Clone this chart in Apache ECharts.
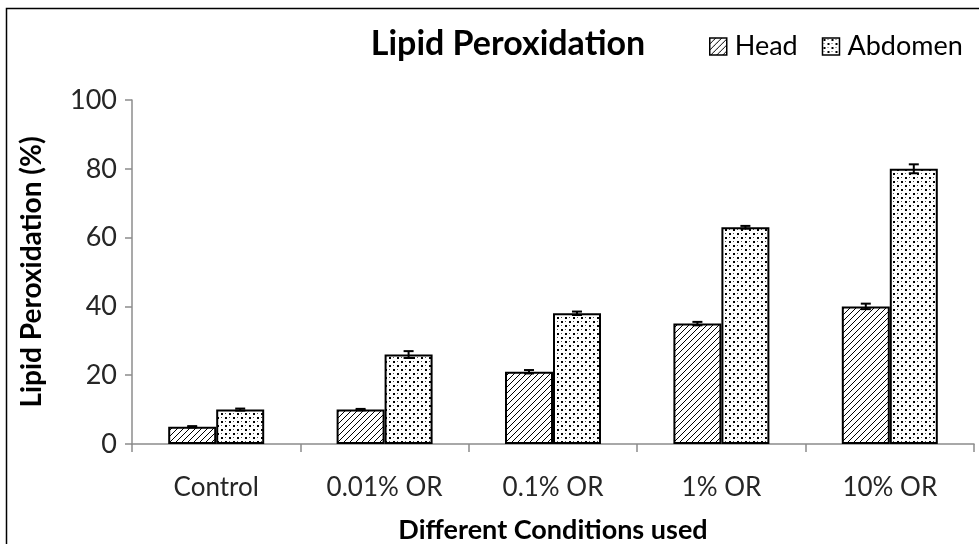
<!DOCTYPE html>
<html>
<head>
<meta charset="utf-8">
<script src="https://cdn.jsdelivr.net/npm/echarts@6/dist/echarts.min.js"></script>
<style>
html,body{margin:0;padding:0;background:#fff;}
#chart{width:979px;height:544px;}
</style>
</head>
<body>
<div id="chart"></div>
<script>
var categories = ['Control', '0.01% OR', '0.1% OR', '1% OR', '10% OR'];
var headValues = [5, 10, 21, 35, 40];
var abdomenValues = [10, 26, 38, 63, 80];
var headErrors = [0.2, 0.2, 0.5, 0.5, 0.8];
var abdomenErrors = [0.3, 1.0, 0.5, 0.4, 1.3];
var yTicks = [0, 20, 40, 60, 80, 100];

var FONT = 'Lato, "Open Sans", sans-serif';

// hatch pattern for Head
function hatchPattern() {
	var c = document.createElement('canvas');
	c.width = 6; c.height = 6;
	var ctx = c.getContext('2d');
	ctx.fillStyle = '#fff';
	ctx.fillRect(0, 0, 6, 6);
	ctx.strokeStyle = '#000';
	ctx.lineWidth = 1;
	ctx.beginPath();
	ctx.moveTo(0, 6); ctx.lineTo(6, 0);
	ctx.moveTo(-3, 3); ctx.lineTo(3, -3);
	ctx.moveTo(3, 9); ctx.lineTo(9, 3);
	ctx.stroke();
	return c;
}
// dot pattern for Abdomen
function dotPattern() {
	var c = document.createElement('canvas');
	c.width = 8; c.height = 8;
	var ctx = c.getContext('2d');
	ctx.fillStyle = '#fff';
	ctx.fillRect(0, 0, 8, 8);
	ctx.fillStyle = '#000';
	ctx.fillRect(1, 1, 2, 2);
	ctx.fillRect(5, 5, 2, 2);
	ctx.fillStyle = '#555';
	ctx.fillRect(5, 1, 1, 1);
	ctx.fillRect(1, 5, 1, 1);
	return c;
}

var headFill = {image: hatchPattern(), repeat: 'repeat'};
var abdFill = {image: dotPattern(), repeat: 'repeat'};

var BAR_FRAC = 0.57;

function errorRender(values, errors, side) {
	return function (params, api) {
		var i = api.value(0);
		var center = api.coord([i, values[i]]);
		var catW = api.size([1, 0])[0];
		var x = center[0] + side * catW * BAR_FRAC / 4;
		var top = api.coord([i, values[i] + errors[i]])[1];
		var bot = api.coord([i, values[i] - errors[i]])[1];
		var cap = 5;
		var st = {stroke: '#000', lineWidth: 2};
		return {
			type: 'group',
			children: [
				{type: 'line', shape: {x1: x, y1: top, x2: x, y2: bot}, style: st},
				{type: 'line', shape: {x1: x - cap, y1: top, x2: x + cap, y2: top}, style: st},
				{type: 'line', shape: {x1: x - cap, y1: bot, x2: x + cap, y2: bot}, style: st}
			]
		};
	};
}

var myChart = echarts.init(document.getElementById('chart'));
myChart.setOption({
	animation: false,
	textStyle: {fontFamily: FONT},
	title: {
		text: 'Lipid Peroxidation',
		left: 503,
		textAlign: 'center',
		top: 22,
		textStyle: {fontSize: 34, fontWeight: 'bold', color: '#000', fontFamily: FONT}
	},
	legend: {
		left: 704,
		top: 28,
		itemWidth: 17,
		itemHeight: 17,
		itemGap: 24,
		icon: 'rect',
		textStyle: {fontSize: 27, color: '#000', fontFamily: FONT, padding: [0, 0, 0, 3]},
		data: [
			{name: 'Head', itemStyle: {color: headFill, borderColor: '#000', borderWidth: 1.5}},
			{name: 'Abdomen', itemStyle: {color: abdFill, borderColor: '#000', borderWidth: 1.5}}
		]
	},
	grid: {left: 132, right: 5, top: 100, bottom: 100, containLabel: false, outerBoundsMode: 'none'},
	graphic: [{
		type: 'rect',
		left: 4, top: 6,
		shape: {width: 1000, height: 600},
		style: {fill: 'none', stroke: '#000', lineWidth: 1.5},
		silent: true
	}],
	xAxis: {
		type: 'category',
		data: categories,
		name: 'Different Conditions used',
		nameLocation: 'middle',
		nameGap: 73,
		nameTextStyle: {fontSize: 27, fontWeight: 'bold', color: '#000', fontFamily: FONT},
		axisLine: {lineStyle: {color: '#8c8c8c', width: 1.5}},
		axisTick: {show: true, length: 8, lineStyle: {color: '#8c8c8c', width: 1.5}},
		axisLabel: {fontSize: 26, color: '#262626', margin: 31, fontFamily: FONT}
	},
	yAxis: {
		type: 'value',
		min: 0,
		max: 100,
		interval: 20,
		name: 'Lipid Peroxidation (%)',
		nameLocation: 'middle',
		nameGap: 86,
		nameTextStyle: {fontSize: 28, fontWeight: 'bold', color: '#000', fontFamily: FONT},
		splitLine: {show: false},
		axisLine: {show: true, lineStyle: {color: '#8c8c8c', width: 1.5}},
		axisTick: {show: true, length: 7, lineStyle: {color: '#8c8c8c', width: 1.5}},
		axisLabel: {fontSize: 27, color: '#262626', margin: 15, fontFamily: FONT,
			formatter: function (v) { return yTicks.indexOf(v) >= 0 ? String(v) : ''; }}
	},
	series: [
		{
			name: 'Head',
			type: 'bar',
			data: headValues,
			barGap: '0%',
			barCategoryGap: '43%',
			itemStyle: {color: headFill, borderColor: '#000', borderWidth: 2}
		},
		{
			name: 'Abdomen',
			type: 'bar',
			data: abdomenValues,
			itemStyle: {color: abdFill, borderColor: '#000', borderWidth: 2}
		},
		{
			name: 'HeadErr',
			type: 'custom',
			data: categories.map(function (c, i) { return [i]; }),
			renderItem: errorRender(headValues, headErrors, -1),
			z: 5,
			silent: true
		},
		{
			name: 'AbdErr',
			type: 'custom',
			data: categories.map(function (c, i) { return [i]; }),
			renderItem: errorRender(abdomenValues, abdomenErrors, 1),
			z: 5,
			silent: true
		}
	]
});
</script>
</body>
</html>
